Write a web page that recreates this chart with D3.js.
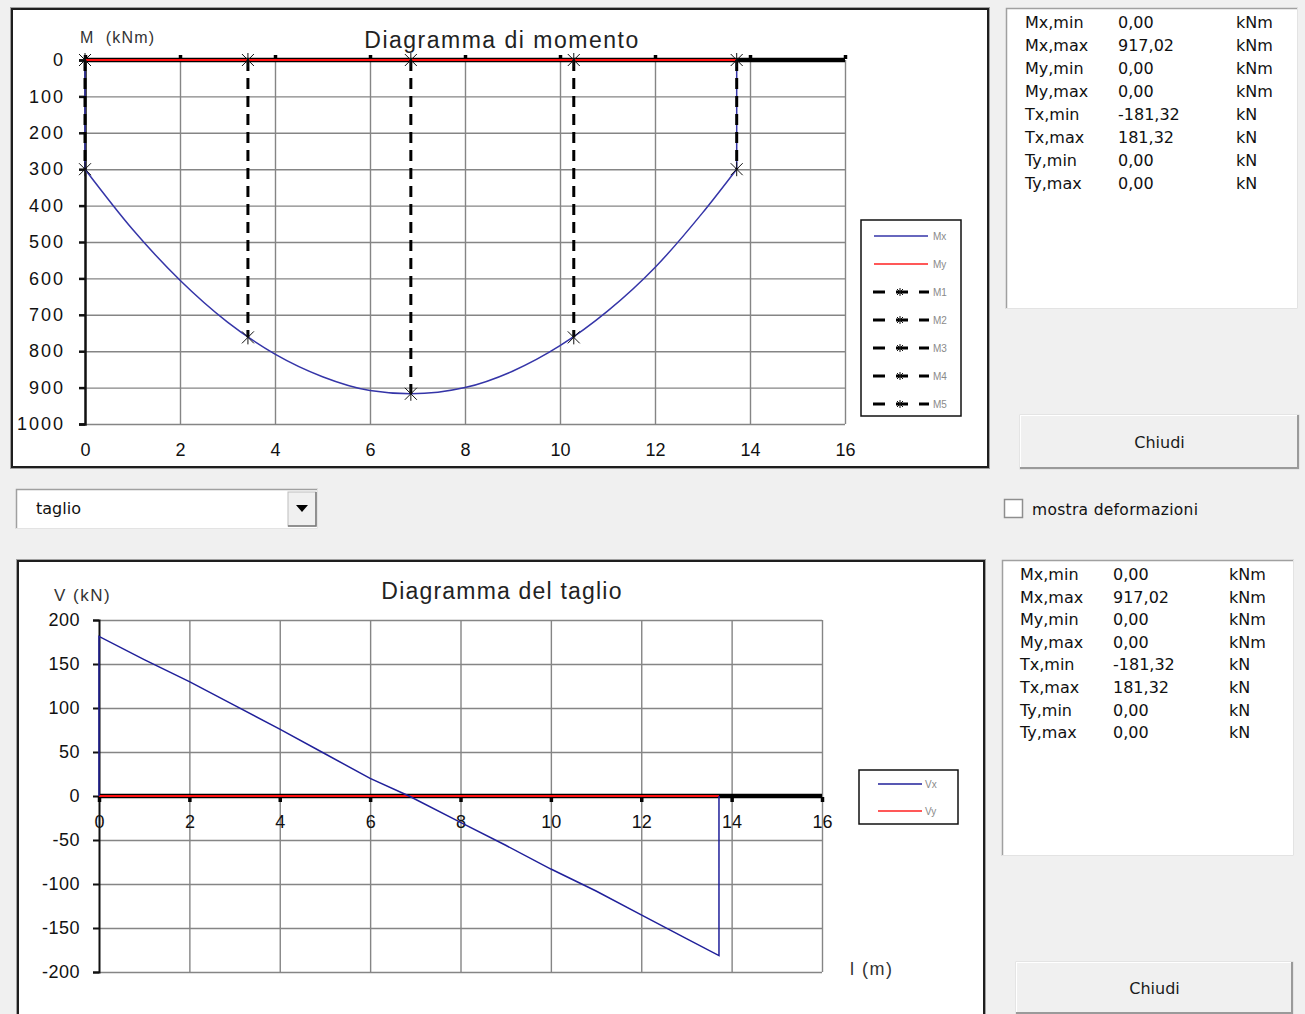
<!DOCTYPE html>
<html>
<head>
<meta charset="utf-8">
<script src="https://cdn.jsdelivr.net/npm/d3@7"></script>
<style>
  body { margin: 0; background: #f0f0f0; }
  svg { display: block; }
</style>
</head>
<body>
<script>

// ---- data ----
// moment diagram, Mx (kNm) along the beam (m), plotted downward
var mx_x = [0, 0, 1, 2, 3, 4, 5, 6, 6.86, 8, 9, 10, 11, 12, 13, 13.72, 13.72];
var mx_val = [0, 300, 465, 605, 720, 808, 870, 908, 917, 900, 855, 785, 690, 570, 420, 300, 0];
var my_x = [0, 13.72];
var my_val = [0, 0];
// sections M1..M5
var sec_names = ["M1", "M2", "M3", "M4", "M5"];
var sec_x = [0, 3.43, 6.86, 10.29, 13.72];
var sec_val = [300, 762, 917, 762, 300];

// shear diagram, Vx (kN)
var vx_x = [0, 0, 1, 2, 3, 4, 5, 6, 6.86, 8, 9, 10, 11, 12, 13, 13.72, 13.72];
var vx_val = [0, 181.32, 155, 130, 103, 76, 48, 20, 0, -30, -56, -83, -108, -135, -162, -181.32, 0];
var vy_x = [0, 13.72];
var vy_val = [0, 0];

var x_ticks = [0, 2, 4, 6, 8, 10, 12, 14, 16];
var m_ticks = [0, 100, 200, 300, 400, 500, 600, 700, 800, 900, 1000];
var v_ticks = [200, 150, 100, 50, 0, -50, -100, -150, -200];

// results table
var res_names = ["Mx,min", "Mx,max", "My,min", "My,max", "Tx,min", "Tx,max", "Ty,min", "Ty,max"];
var res_vals = ["0,00", "917,02", "0,00", "0,00", "-181,32", "181,32", "0,00", "0,00"];
var res_units = ["kNm", "kNm", "kNm", "kNm", "kN", "kN", "kN", "kN"];

var W = 1305, H = 1014;
var chart_font = "'Liberation Sans', Arial, sans-serif";
var ui_font = "'DejaVu Sans', Verdana, sans-serif";
var plain = function(d){ return String(d); };   // no thousands sep, plain hyphen

var svg = d3.select("body").append("svg")
  .attr("width", W)
  .attr("height", H);

svg.append("rect").attr("x", 0).attr("y", 0).attr("width", W).attr("height", H)
  .attr("fill", "#f0f0f0");

// draws a framed white panel like the chart boxes
var chart_frame = function(x, y, w, h){
  svg.append("rect").attr("x", x - 1.5).attr("y", y - 1.5).attr("width", w + 3).attr("height", h + 3)
    .attr("fill", "none").attr("stroke", "#a0a0a0").attr("stroke-width", 1);
  svg.append("rect").attr("x", x).attr("y", y).attr("width", w).attr("height", h)
    .attr("fill", "white").attr("stroke", "#1e1e1e").attr("stroke-width", 2);
}

// sunken list box
var sunken_box = function(x, y, w, h){
  svg.append("rect").attr("x", x).attr("y", y).attr("width", w).attr("height", h)
    .attr("fill", "white");
  svg.append("path").attr("d", "M" + (x + 0.5) + "," + (y + h) + "V" + (y + 0.5) + "H" + (x + w))
    .attr("fill", "none").attr("stroke", "#a0a0a0").attr("stroke-width", 1.5);
  svg.append("path").attr("d", "M" + (x + w - 0.5) + "," + y + "V" + (y + h - 0.5) + "H" + x)
    .attr("fill", "none").attr("stroke", "#e3e3e3").attr("stroke-width", 1);
}

var button = function(x, y, w, h, label){
  svg.append("rect").attr("x", x).attr("y", y).attr("width", w).attr("height", h)
    .attr("fill", "#f0f0f0").attr("stroke", "#d8d8d8").attr("stroke-width", 1);
  svg.append("path").attr("d", "M" + x + "," + (y + 0.5) + "H" + (x + w) + "M" + (x + 0.5) + "," + y + "V" + (y + h))
    .attr("stroke", "white").attr("stroke-width", 1);
  svg.append("path").attr("d", "M" + x + "," + (y + h - 1) + "H" + (x + w - 1) + "V" + y)
    .attr("fill", "none").attr("stroke", "#9a9a9a").attr("stroke-width", 2);
  svg.append("text").attr("x", x + w/2).attr("y", y + h/2 + 6)
    .attr("text-anchor", "middle").attr("font-family", ui_font).attr("font-size", 16)
    .attr("fill", "#1a1a1a").text(label);
}

var star_marker = function(g, cx, cy, s){
  g.append("path")
    .attr("d", "M" + (cx - s) + "," + (cy - s) + "L" + (cx + s) + "," + (cy + s) +
               "M" + (cx - s) + "," + (cy + s) + "L" + (cx + s) + "," + (cy - s) +
               "M" + cx + "," + (cy - s - 1) + "L" + cx + "," + (cy + s + 1))
    .attr("fill", "none").attr("stroke", "#111").attr("stroke-width", 1);
}

var style_grid = function(g){
  g.select(".domain").remove();
  g.selectAll(".tick line").attr("stroke", "#858585").attr("stroke-width", 1.4);
}

////////////////////////////////////////
// top chart - moment
chart_frame(12, 9, 976, 458);

var xM = d3.scaleLinear().domain([0, 16]).range([85, 845]);
var yM = d3.scaleLinear().domain([0, 1000]).range([60, 424]);

// grid
svg.append("g").attr("transform", "translate(0," + yM(1000) + ")")
  .call(d3.axisBottom(xM).tickValues(x_ticks.slice(1)).tickSize(-(yM(1000) - yM(0))).tickFormat(""))
  .call(style_grid);
svg.append("g").attr("transform", "translate(" + xM(16) + ",0)")
  .call(d3.axisLeft(yM).tickValues(m_ticks.slice(1)).tickSize(xM(16) - xM(0)).tickFormat(""))
  .call(style_grid);

// y axis with labels
svg.append("g").attr("transform", "translate(" + xM(0) + ",0)")
  .call(d3.axisLeft(yM).tickValues(m_ticks).tickFormat(plain).tickSize(6).tickPadding(14))
  .call(function(g){
    g.select(".domain").attr("stroke", "#111").attr("stroke-width", 2.5);
    g.selectAll(".tick line").attr("stroke", "#111").attr("stroke-width", 2.5);
    g.selectAll(".tick text").attr("font-family", chart_font).attr("font-size", 18)
      .attr("letter-spacing", 2).attr("fill", "#111");
  });

// x labels placed under the plot
svg.append("g").attr("transform", "translate(0,443)")
  .call(d3.axisBottom(xM).tickValues(x_ticks).tickFormat(plain).tickSize(0).tickPadding(0))
  .call(function(g){
    g.select(".domain").remove();
    g.selectAll(".tick text").attr("font-family", chart_font).attr("font-size", 18).attr("fill", "#111");
  });

// x axis line along M = 0
svg.append("line").attr("x1", xM(0)).attr("x2", xM(16)).attr("y1", yM(0)).attr("y2", yM(0))
  .attr("stroke", "#000").attr("stroke-width", 4.5);
svg.append("g").attr("transform", "translate(0," + (yM(0) - 1) + ")")
  .call(d3.axisTop(xM).tickValues(x_ticks).tickSize(4).tickFormat(""))
  .call(function(g){
    g.select(".domain").remove();
    g.selectAll(".tick line").attr("stroke", "#000").attr("stroke-width", 3.5);
  });

var lineM = d3.line().x(function(d){ return xM(d[0]); }).y(function(d){ return yM(d[1]); });
var lineMc = d3.line().x(function(d){ return xM(d[0]); }).y(function(d){ return yM(d[1]); })
  .curve(d3.curveMonotoneX);

// Mx: vertical ends + smooth parabola in between
var mx_pts = d3.zip(mx_x, mx_val);
svg.append("path")
  .attr("d", lineM(mx_pts.slice(0, 2)) + lineMc(mx_pts.slice(1, 16)).replace(/^M/, "L") +
             lineM(mx_pts.slice(15)).replace(/^M[^L]*/, ""))
  .attr("fill", "none").attr("stroke", "#3535a8").attr("stroke-width", 1.5);

svg.append("path").attr("d", lineM(d3.zip(my_x, my_val)))
  .attr("fill", "none").attr("stroke", "#ff1010").attr("stroke-width", 2);

// section lines M1..M5
var sec_g = svg.append("g");
for (var i = 0; i < sec_x.length; i++){
  sec_g.append("line")
    .attr("x1", xM(sec_x[i])).attr("x2", xM(sec_x[i]))
    .attr("y1", yM(0)).attr("y2", yM(sec_val[i]))
    .attr("stroke", "#000").attr("stroke-width", 3).attr("stroke-dasharray", "11,7");
  star_marker(sec_g, xM(sec_x[i]), yM(0), 6);
  star_marker(sec_g, xM(sec_x[i]), yM(sec_val[i]), 6);
}

svg.append("text").attr("x", 502).attr("y", 48).attr("text-anchor", "middle")
  .attr("font-family", chart_font).attr("font-size", 23).attr("letter-spacing", 1.5)
  .attr("fill", "#222").text("Diagramma di momento");
svg.append("text").attr("x", 80).attr("y", 43)
  .attr("font-family", chart_font).attr("font-size", 16).attr("letter-spacing", 1.2)
  .attr("fill", "#333").attr("xml:space", "preserve").text("M  (kNm)");

// legend
svg.append("rect").attr("x", 861).attr("y", 220).attr("width", 100).attr("height", 196)
  .attr("fill", "white").attr("stroke", "#111").attr("stroke-width", 1.5);
var leg_names = ["Mx", "My"].concat(sec_names);
for (var i = 0; i < leg_names.length; i++){
  var ly = 236 + i*28;
  if (i == 0){
    svg.append("line").attr("x1", 874).attr("x2", 928).attr("y1", ly).attr("y2", ly)
      .attr("stroke", "#3535a8").attr("stroke-width", 1.5);
  } else if (i == 1){
    svg.append("line").attr("x1", 874).attr("x2", 928).attr("y1", ly).attr("y2", ly)
      .attr("stroke", "#ff2020").attr("stroke-width", 1.5);
  } else {
    svg.append("line").attr("x1", 873).attr("x2", 929).attr("y1", ly).attr("y2", ly)
      .attr("stroke", "#000").attr("stroke-width", 3).attr("stroke-dasharray", "12,11");
    star_marker(svg, 900, ly, 3);
  }
  svg.append("text").attr("x", 933).attr("y", ly + 4)
    .attr("font-family", chart_font).attr("font-size", 10).attr("fill", "#8a8a8a")
    .text(leg_names[i]);
}

////////////////////////////////////////
// bottom chart - shear
chart_frame(18, 561, 966, 470);

var xV = d3.scaleLinear().domain([0, 16]).range([99, 822]);
var yV = d3.scaleLinear().domain([-200, 200]).range([972, 620]);

svg.append("g").attr("transform", "translate(0," + yV(-200) + ")")
  .call(d3.axisBottom(xV).tickValues(x_ticks.slice(1)).tickSize(-(yV(-200) - yV(200))).tickFormat(""))
  .call(style_grid);
svg.append("g").attr("transform", "translate(" + xV(16) + ",0)")
  .call(d3.axisLeft(yV).tickValues(v_ticks).tickSize(xV(16) - xV(0)).tickFormat(""))
  .call(style_grid);

svg.append("g").attr("transform", "translate(" + xV(0) + ",0)")
  .call(d3.axisLeft(yV).tickValues(v_ticks).tickFormat(plain).tickSize(6).tickPadding(13))
  .call(function(g){
    g.select(".domain").attr("stroke", "#111").attr("stroke-width", 2);
    g.selectAll(".tick line").attr("stroke", "#111").attr("stroke-width", 2);
    g.selectAll(".tick text").attr("font-family", chart_font).attr("font-size", 18)
      .attr("letter-spacing", 0.5).attr("fill", "#111");
  });

// x axis along V = 0
svg.append("line").attr("x1", xV(0)).attr("x2", xV(16)).attr("y1", yV(0)).attr("y2", yV(0))
  .attr("stroke", "#000").attr("stroke-width", 4.5);
svg.append("g").attr("transform", "translate(0," + (yV(0) + 1) + ")")
  .call(d3.axisBottom(xV).tickValues(x_ticks).tickFormat(plain).tickSize(5).tickPadding(13))
  .call(function(g){
    g.select(".domain").remove();
    g.selectAll(".tick line").attr("stroke", "#000").attr("stroke-width", 3.5);
    g.selectAll(".tick text").attr("font-family", chart_font).attr("font-size", 18).attr("fill", "#111");
  });

var lineV = d3.line().x(function(d){ return xV(d[0]); }).y(function(d){ return yV(d[1]); });
svg.append("path").attr("d", lineV(d3.zip(vy_x, vy_val)))
  .attr("fill", "none").attr("stroke", "#ff1010").attr("stroke-width", 2);
svg.append("path").attr("d", lineV(d3.zip(vx_x, vx_val)))
  .attr("fill", "none").attr("stroke", "#20209a").attr("stroke-width", 1.5);

svg.append("text").attr("x", 502).attr("y", 599).attr("text-anchor", "middle")
  .attr("font-family", chart_font).attr("font-size", 23).attr("letter-spacing", 1.2)
  .attr("fill", "#222").text("Diagramma del taglio");
svg.append("text").attr("x", 54).attr("y", 601)
  .attr("font-family", chart_font).attr("font-size", 17).attr("letter-spacing", 1.5)
  .attr("fill", "#333").text("V (kN)");
svg.append("text").attr("x", 850).attr("y", 975)
  .attr("font-family", chart_font).attr("font-size", 18).attr("letter-spacing", 1.5)
  .attr("fill", "#333").text("l (m)");

svg.append("rect").attr("x", 859).attr("y", 770).attr("width", 99).attr("height", 54)
  .attr("fill", "white").attr("stroke", "#111").attr("stroke-width", 1.5);
var vleg = [["Vx", "#20209a"], ["Vy", "#ff2020"]];
for (var i = 0; i < vleg.length; i++){
  var ly = 784 + i*27;
  svg.append("line").attr("x1", 878).attr("x2", 922).attr("y1", ly).attr("y2", ly)
    .attr("stroke", vleg[i][1]).attr("stroke-width", 1.5);
  svg.append("text").attr("x", 925).attr("y", ly + 4)
    .attr("font-family", chart_font).attr("font-size", 10).attr("fill", "#8a8a8a")
    .text(vleg[i][0]);
}

////////////////////////////////////////
// controls and result panels
var result_table = function(x, y, w, h, col_x, row_y, row_h){
  sunken_box(x, y, w, h);
  for (var i = 0; i < res_names.length; i++){
    var ty = row_y + i*row_h;
    svg.append("text").attr("x", col_x[0]).attr("y", ty).attr("font-family", ui_font)
      .attr("font-size", 16).attr("fill", "#111").text(res_names[i]);
    svg.append("text").attr("x", col_x[1]).attr("y", ty).attr("font-family", ui_font)
      .attr("font-size", 16).attr("fill", "#111").text(res_vals[i]);
    svg.append("text").attr("x", col_x[2]).attr("y", ty).attr("font-family", ui_font)
      .attr("font-size", 16).attr("fill", "#111").text(res_units[i]);
  }
}
result_table(1006, 8, 292, 301, [1025, 1118, 1236], 28, 23);
result_table(1002, 560, 292, 296, [1020, 1113, 1229], 580, 22.6);

button(1020, 415, 279, 54, "Chiudi");
button(1016, 962, 277, 52, "Chiudi");

// checkbox
svg.append("rect").attr("x", 1004.5).attr("y", 499.5).attr("width", 18).attr("height", 18)
  .attr("fill", "white").attr("stroke", "#8e8e8e").attr("stroke-width", 1.5);
svg.append("text").attr("x", 1032).attr("y", 515).attr("font-family", ui_font)
  .attr("font-size", 15.5).attr("letter-spacing", 0.3).attr("fill", "#111").text("mostra deformazioni");

// drop down
sunken_box(16, 489, 302, 40);
svg.append("text").attr("x", 36).attr("y", 514).attr("font-family", ui_font)
  .attr("font-size", 16).attr("fill", "#111").text("taglio");
svg.append("rect").attr("x", 288).attr("y", 492).attr("width", 28).attr("height", 34)
  .attr("fill", "#f0f0f0").attr("stroke", "#bdbdbd").attr("stroke-width", 1);
svg.append("path").attr("d", "M" + (316) + "," + 492 + "V" + 526 + "H" + 288)
  .attr("fill", "none").attr("stroke", "#7a7a7a").attr("stroke-width", 1.5);
svg.append("path").attr("d", "M296,505L308,505L302,512Z").attr("fill", "#000");

</script>
</body>
</html>
